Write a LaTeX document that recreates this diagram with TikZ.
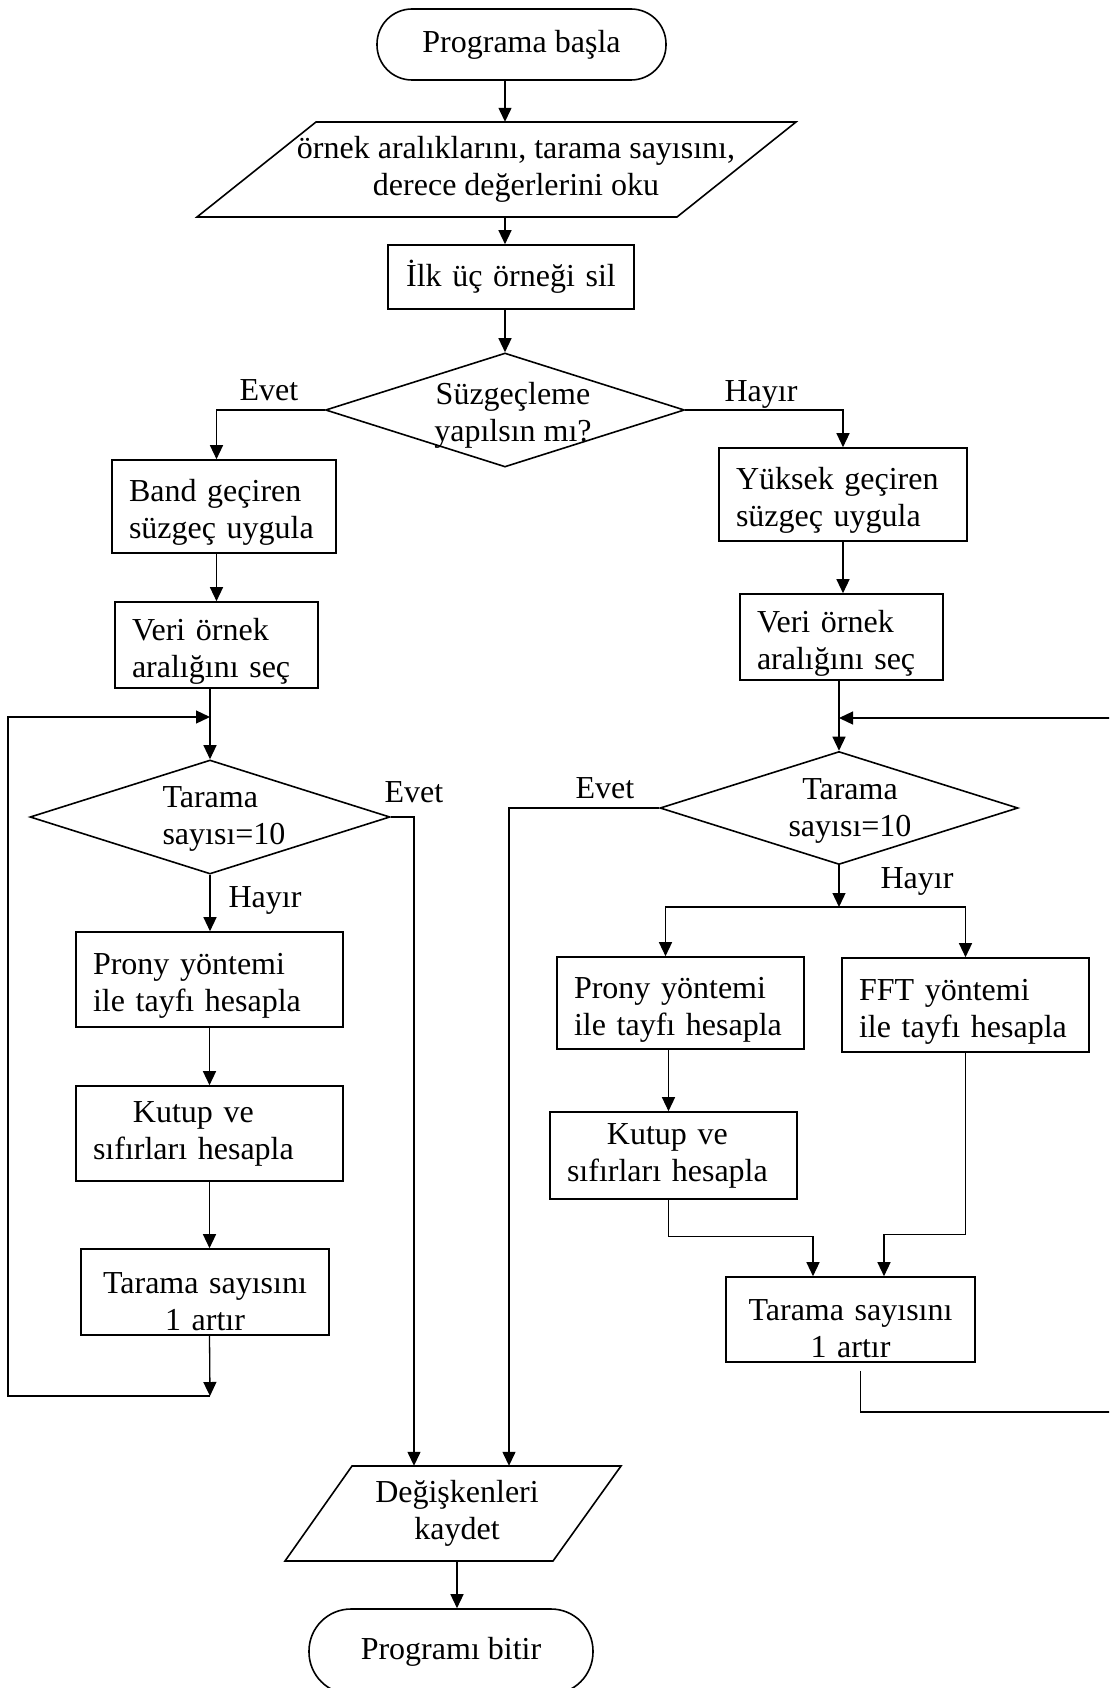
\documentclass[tikz,border=0pt]{standalone}
\usepackage{fontspec}
\setmainfont{Liberation Serif}
\usetikzlibrary{arrows.meta,shapes.geometric}

\tikzset{
  box/.style={draw, line width=1.6pt, align=left, inner xsep=17pt, inner ysep=0pt},
  twol/.style={box, text height=34pt},
  term/.style={draw, line width=1.6pt, rounded corners=35pt, align=center},
  cond/.style={draw, diamond, line width=1.6pt, inner sep=0pt},
  io/.style={inner sep=0pt, align=center},
  outl/.style={line width=1.6pt},
  lbl/.style={inner sep=0pt},
  arr/.style={-{Triangle[length=14pt,width=13pt]}, line width=1.3pt}
}

\begin{document}
\begin{tikzpicture}[x=1pt, y=-1pt, font=\fontsize{32}{37}\selectfont]
  \useasboundingbox (0,0) rectangle (1109,1688);
  \clip (0,0) rectangle (1109,1688);

  % top part
  \node[term, minimum width=289pt, minimum height=71pt] (start) at (521.5,44.5) {Programa başla};
  \node[io, minimum height=95pt] (in1) at (516,169.5) {örnek aralıklarını, tarama sayısını,\\derece değerlerini oku};
  \draw[outl] (197,217) -- (316,122) -- (796,122) -- (677,217) -- cycle;
  \node[box, align=center, text width=212pt, minimum height=64pt] (box1) at (511,277) {İlk üç örneği sil};
  \node[cond, minimum width=359pt, minimum height=114pt] (c1) at (505,410) {};
  \node[io] (t1) at (513,415.5) {Süzgeçleme\\yapılsın mı?};

  \node[lbl] (ev1) at (269,390) {Evet};
  \node[lbl] (ha1) at (761,394) {Hayır};

  % left branch
  \node[twol, text width=190pt, minimum height=93pt] (band) at (224,506.5) {Band geçiren\\süzgeç uygula};
  \node[twol, text width=169pt, minimum height=86pt] (veri1) at (216.5,645) {Veri örnek\\aralığını seç};
  \node[cond, minimum width=360pt, minimum height=114pt] (c2) at (210,817) {};
  \node[io, align=left] (t2) at (224,819) {Tarama\\sayısı=10};
  \node[lbl] (ev2) at (414,792) {Evet};
  \node[lbl] (ha2) at (265,900) {Hayır};
  \node[twol, text width=233pt, minimum height=95pt] (pr1) at (209.5,979.5) {Prony yöntemi\\ile tayfı hesapla};
  \node[box, text width=233pt, minimum height=95pt] (ku1) at (209.5,1133.5) {\begin{tabular}{@{}c@{}}Kutup ve\\sıfırları hesapla\end{tabular}};
  \node[twol, text height=40pt, text width=214pt, minimum height=86pt, align=center] (tar1) at (205,1292) {Tarama sayısını\\1 artır};

  % right branch
  \node[twol, text width=214pt, minimum height=93pt] (ye) at (843,494.5) {Yüksek geçiren\\süzgeç uygula};
  \node[twol, text width=169pt, minimum height=86pt] (veri2) at (841.5,637) {Veri örnek\\aralığını seç};
  \node[cond, minimum width=358pt, minimum height=113pt] (c3) at (839,808) {};
  \node[io] (t3) at (850,810.5) {Tarama\\sayısı=10};
  \node[lbl] (ev3) at (605,788) {Evet};
  \node[lbl] (ha3) at (917,881) {Hayır};
  \node[twol, text width=213pt, minimum height=92pt] (pr2) at (680.5,1003) {Prony yöntemi\\ile tayfı hesapla};
  \node[twol, text width=213pt, minimum height=94pt] (fft) at (965.5,1005) {FFT yöntemi\\ile tayfı hesapla};
  \node[box, text width=213pt, minimum height=87pt] (ku2) at (673.5,1155.5) {\begin{tabular}{@{}c@{}}Kutup ve\\sıfırları hesapla\end{tabular}};
  \node[twol, text height=40pt, text width=215pt, minimum height=85pt, align=center] (tar2) at (850.5,1319.5) {Tarama sayısını\\1 artır};

  % bottom part
  \node[io, minimum height=95pt] (out) at (457,1513.5) {Değişkenleri\\kaydet};
  \draw[outl] (285,1561) -- (352,1466) -- (621,1466) -- (553,1561) -- cycle;
  \node[term, rounded corners=42pt, minimum width=284pt, minimum height=85pt] (endn) at (451,1651.5) {Programı bitir};

  \coordinate (m1) at (210,717);
  \coordinate (l1) at (210,1396);
  \coordinate (l2) at (8,1396);
  \coordinate (m2) at (839,718);
  \coordinate (r1) at (1130,1412);
  \coordinate (j) at (839,907);

  % connectors
  \draw[arr] (start.south -| c1) -- (in1.north -| c1);
  \draw[arr] (in1.south -| c1) -- (box1.north -| c1);
  \draw[arr] (box1.south -| c1) -- (c1.north);
  \draw[arr] (c1.west) -| (band.north -| veri1);
  \draw[arr] (c1.east) -| (ye.north);

  \draw[arr] (band.south -| veri1) -- (veri1.north);
  \draw[arr] (veri1.south -| c2) -- (c2.north);
  \draw[arr] (l1) -- (l2) |- (m1);
  \draw[arr] (c2.south) -- (pr1.north -| c2);
  \draw[arr] (pr1.south) -- (ku1.north);
  \draw[arr] (ku1.south) -- (tar1.north -| ku1);
  \draw[arr] (tar1.south -| ku1) -- (l1);
  \draw[arr] (c2.east) -| ([xshift=-43pt]out.north);

  \draw[arr] (ye.south) -- (veri2.north -| ye);
  \draw[arr] (veri2.south -| c3) -- (c3.north);
  \draw[arr] ([xshift=10pt,yshift=-8pt]tar2.south) |- (r1) |- (m2);
  \draw[arr] (c3.west) -| ([xshift=52pt]out.north);
  \draw[arr] (c3.south) -- (j);
  \draw[arr] (j) -| ([xshift=-15pt]pr2.north);
  \draw[arr] (j) -| (fft.north);
  \draw[arr] ([xshift=-12pt]pr2.south) -- ([xshift=-12pt]pr2.south |- ku2.north);
  \draw[arr] ([xshift=-5pt]ku2.south) |- ([xshift=-37.5pt,yshift=40pt]tar2.north) -- ([xshift=-37.5pt]tar2.north);
  \draw[arr] (fft.south) |- ([xshift=33.5pt,yshift=42pt]tar2.north) -- ([xshift=33.5pt]tar2.north);

  \draw[arr] (out.south) -- (out.south |- endn.north);
\end{tikzpicture}
\end{document}
